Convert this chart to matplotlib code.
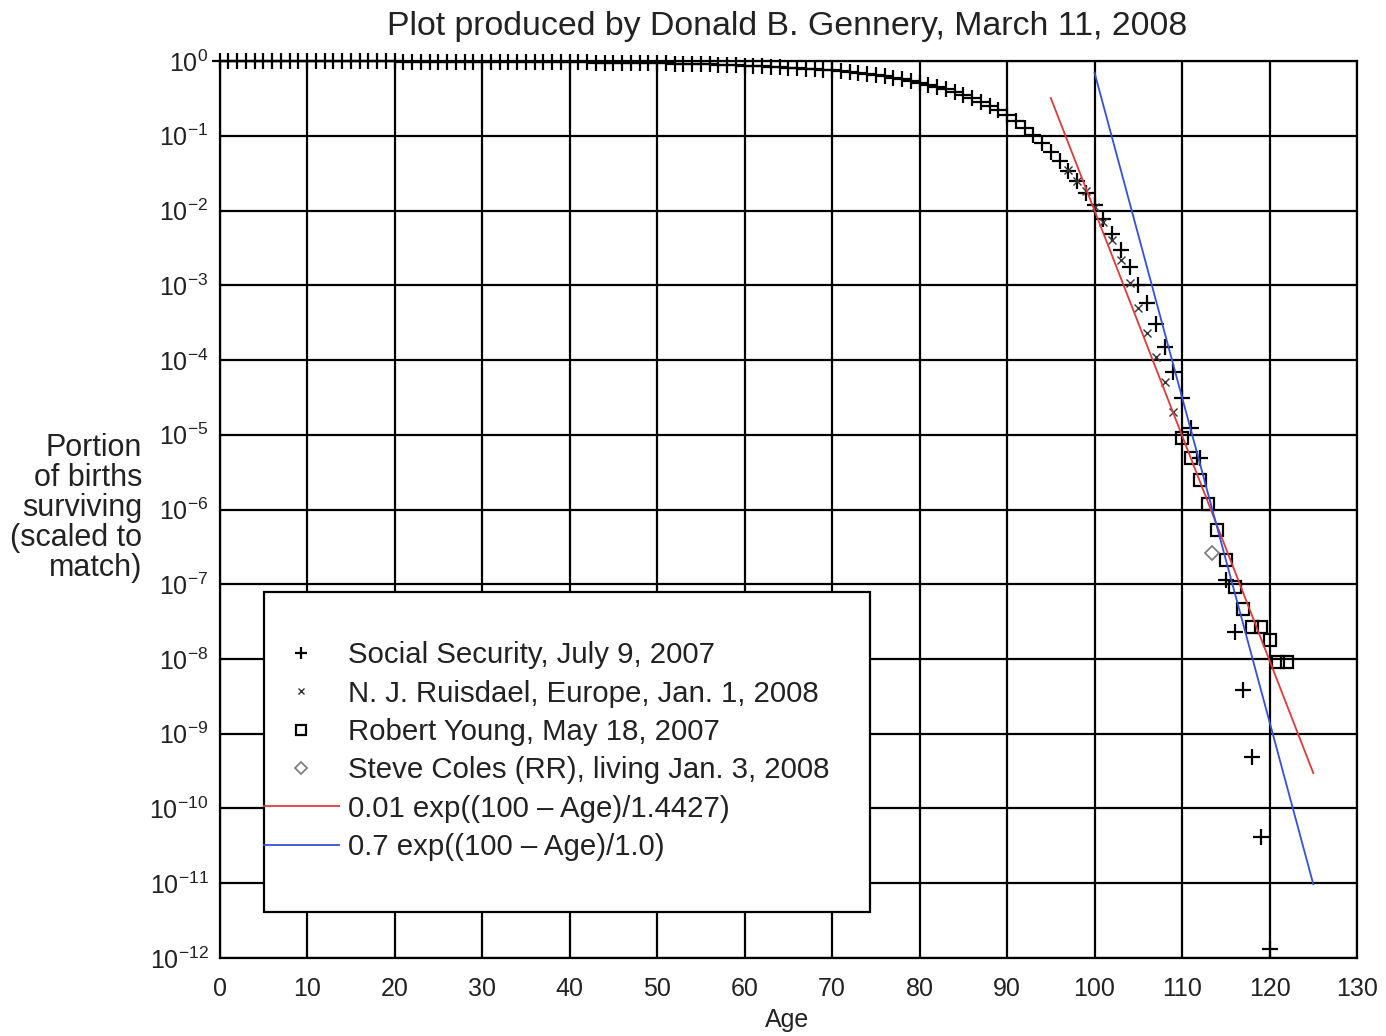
import numpy as np
import matplotlib
matplotlib.use("Agg")
import matplotlib.pyplot as plt
from matplotlib.patches import Rectangle
from matplotlib.ticker import FixedLocator, LogFormatterMathtext, NullLocator

plt.rcParams["font.family"] = ["Liberation Sans", "DejaVu Sans"]
plt.rcParams["mathtext.fontset"] = "custom"
plt.rcParams["mathtext.rm"] = "Liberation Sans"
plt.rcParams["mathtext.it"] = "Liberation Sans:italic"
plt.rcParams["mathtext.bf"] = "Liberation Sans:bold"

# Social Security period life table, portion of births surviving to each age
ss_ages = list(range(0, 113)) + [115, 116, 117, 118, 119, 120]
ss_surv = [
    1.0, 0.9932, 0.9927, 0.9924, 0.9921, 0.9919, 0.9917, 0.9915, 0.9914, 0.9912,
    0.9911, 0.9910, 0.9908, 0.9906, 0.9903, 0.9898, 0.9892, 0.9884, 0.9875, 0.9866,
    0.9857, 0.9847, 0.9837, 0.9828, 0.9818, 0.9809, 0.9800, 0.9791, 0.9781, 0.9772,
    0.9762, 0.9752, 0.9741, 0.9730, 0.9718, 0.9705, 0.9691, 0.9676, 0.9660, 0.9642,
    0.9623, 0.9602, 0.9579, 0.9554, 0.9527, 0.9498, 0.9466, 0.9432, 0.9396, 0.9357,
    0.9315, 0.9270, 0.9222, 0.9170, 0.9115, 0.9056, 0.8993, 0.8926, 0.8854, 0.8777,
    0.8694, 0.8605, 0.8510, 0.8408, 0.8299, 0.8183, 0.8059, 0.7926, 0.7784, 0.7632,
    0.7469, 0.7295, 0.7109, 0.6910, 0.6698, 0.6473, 0.6234, 0.5982, 0.5715, 0.5435,
    0.5142, 0.4837, 0.4521, 0.4196, 0.3863, 0.3525, 0.3186, 0.2849, 0.2518, 0.2197,
    0.1891, 0.1585, 0.1288, 0.1023, 0.0794, 0.0603, 0.0457, 0.0339, 0.0245, 0.0174,
    0.0120, 7.6e-3, 4.9e-3, 3.0e-3, 1.78e-3, 1.02e-3, 5.8e-4, 3.0e-4, 1.48e-4, 6.9e-5,
    3.1e-5, 1.23e-5, 4.9e-6,
    1.15e-7, 2.3e-8, 3.9e-9, 4.9e-10, 4.1e-11, 1.3e-12,
]

# N. J. Ruisdael, European centenarians
ru_ages = [97, 98, 99, 100, 101, 102, 103, 104, 105, 106, 107, 108, 109]
ru_surv = [3.5e-2, 2.5e-2, 1.8e-2, 1.12e-2, 7.1e-3, 4.0e-3, 2.2e-3,
           1.07e-3, 4.9e-4, 2.3e-4, 1.1e-4, 5.1e-5, 2.0e-5]

# Robert Young, validated supercentenarians
ry_ages = [110, 111, 112, 113, 114, 115, 116, 117, 118, 119, 120, 121, 122]
ry_surv = [9.1e-6, 4.9e-6, 2.45e-6, 1.2e-6, 5.4e-7, 2.1e-7, 9.3e-8,
           4.6e-8, 2.7e-8, 2.7e-8, 1.8e-8, 9.1e-9, 9.1e-9]

# Steve Coles (RR), living supercentenarians
sc_ages = [113.4]
sc_surv = [2.6e-7]

# Exponential fits: coef * exp((100 - Age) / scale)
red_coef, red_scale, red_range = 0.01, 1.4427, (95, 125)
blue_coef, blue_scale, blue_range = 0.7, 1.0, (100, 125)

labels = [
    "Social Security, July 9, 2007",
    "N. J. Ruisdael, Europe, Jan. 1, 2008",
    "Robert Young, May 18, 2007",
    "Steve Coles (RR), living Jan. 3, 2008",
    "0.01 exp((100 \u2013 Age)/1.4427)",
    "0.7 exp((100 \u2013 Age)/1.0)",
]

fig = plt.figure(figsize=(13.86, 10.36), dpi=100)
ax = fig.add_axes([0.1584, 0.0753, 0.8207, 0.8658])
ax.set_yscale("log")
ax.set_xlim(0, 130)
ax.set_ylim(1e-12, 1)
ax.xaxis.set_major_locator(FixedLocator(np.arange(0, 131, 10)))
ax.yaxis.set_major_locator(FixedLocator([10.0 ** -k for k in range(13)]))
ax.yaxis.set_minor_locator(NullLocator())
ax.yaxis.set_major_formatter(LogFormatterMathtext())
ax.grid(True, color="black", linewidth=1.6, zorder=0)
ax.set_axisbelow(True)
for s in ax.spines.values():
    s.set_linewidth(1.6)
ax.tick_params(axis="both", length=0, labelsize=18, colors="#222222")
ax.tick_params(axis="x", pad=14)
ax.tick_params(axis="y", pad=8)

h_ss, = ax.plot(ss_ages, ss_surv, ls="none", marker="+", ms=11, mew=1.6,
                color="black", clip_on=False, zorder=4)
h_ru, = ax.plot(ru_ages, ru_surv, ls="none", marker="x", ms=6, mew=1.0,
                color="#333333", clip_on=False, zorder=4)
h_ry, = ax.plot(ry_ages, ry_surv, ls="none", marker="s", ms=9, mew=1.6,
                mfc="none", mec="black", clip_on=False, zorder=4)
h_sc, = ax.plot(sc_ages, sc_surv, ls="none", marker="D", ms=7.5, mew=1.3,
                mfc="none", mec="#808080", clip_on=False, zorder=4)

xr = np.linspace(*red_range, 200)
h_red, = ax.plot(xr, red_coef * np.exp((100 - xr) / red_scale),
                 color="#e03a3a", lw=1.3, zorder=5)
xb = np.linspace(*blue_range, 200)
h_blue, = ax.plot(xb, blue_coef * np.exp((100 - xb) / blue_scale),
                  color="#3550d8", lw=1.3, zorder=5)

ax.add_patch(Rectangle((0.039, 0.051), 0.533, 0.357, transform=ax.transAxes,
                       facecolor="white", edgecolor="black", lw=1.6, zorder=6))
leg = ax.legend([h_ss, h_ru, h_ry, h_sc, h_red, h_blue], labels,
                loc="upper left", bbox_to_anchor=(0.039, 0.353),
                frameon=False, fontsize=21.2, handlelength=2.55,
                handletextpad=0.3, borderpad=0, borderaxespad=0,
                labelspacing=0.35, markerscale=0.75, labelcolor="#222222")
leg.set_zorder(7)

fig.text(0.568, 0.974, "Plot produced by Donald B. Gennery, March 11, 2008",
         ha="center", va="center", fontsize=24.4, color="#222222")
fig.text(0.568, 0.015, "Age", ha="center", va="center", fontsize=18,
         color="#222222")
fig.text(0.1025, 0.5097, "Portion\nof births\nsurviving\n(scaled to\nmatch)",
         ha="right", va="center", multialignment="right", fontsize=22,
         linespacing=1.0, color="#222222")

fig.savefig("out.png", dpi=100)
